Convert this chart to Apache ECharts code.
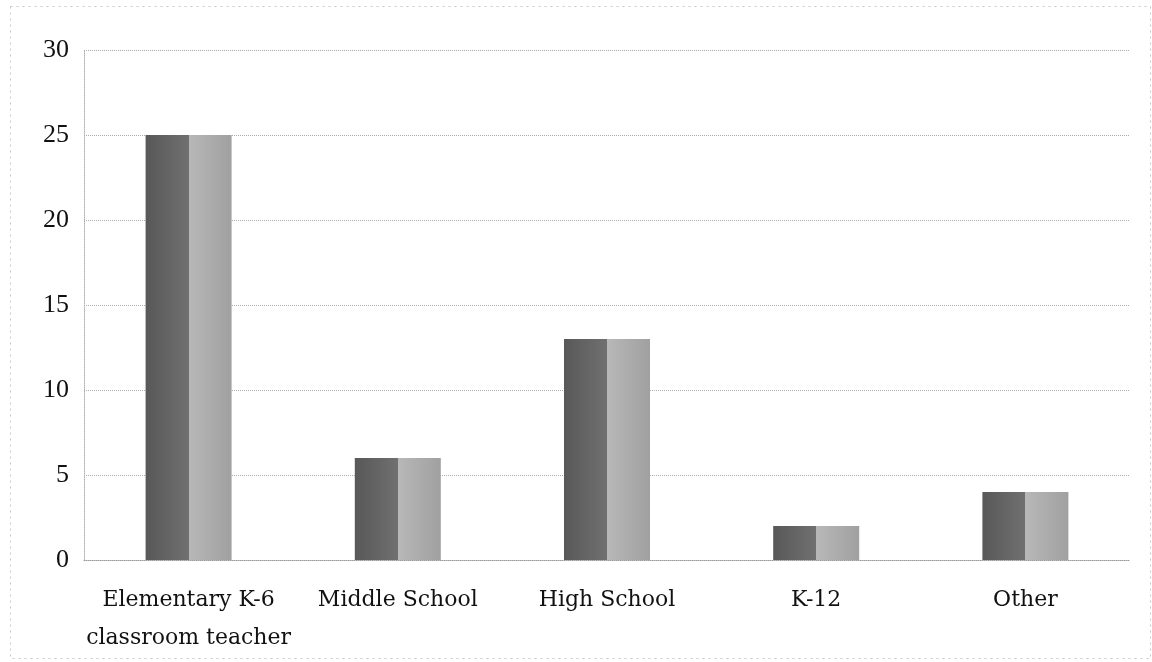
<!DOCTYPE html>
<html>
<head>
<meta charset="utf-8">
<script src="https://cdn.jsdelivr.net/npm/echarts@6/dist/echarts.min.js"></script>
<style>
html,body{margin:0;padding:0;background:#fff;}
#chart{width:1152px;height:662px;}
</style>
</head>
<body>
<div id="chart"></div>
<script>
var categories = ['Elementary K-6\nclassroom teacher', 'Middle School', 'High School', 'K-12', 'Other'];
var values = [25, 6, 13, 2, 4];
var yTicks = [0, 5, 10, 15, 20, 25, 30];

var chart = echarts.init(document.getElementById('chart'));
var barColor = {
  type: 'linear', x: 0, y: 0, x2: 1, y2: 0,
  colorStops: [
    {offset: 0, color: '#585858'},
    {offset: 0.5, color: '#707070'},
    {offset: 0.5, color: '#b8b8b8'},
    {offset: 1, color: '#a0a0a0'}
  ]
};
chart.setOption({
  backgroundColor: '#ffffff',
  animation: false,
  grid: {left: 84, right: 22, top: 50, bottom: 102},
  xAxis: {
    type: 'category',
    data: categories,
    axisTick: {show: false},
    axisLine: {show: true, lineStyle: {color: '#9a9a9a', type: 'dotted', width: 1}},
    axisLabel: {
      color: '#111', fontFamily: 'DejaVu Serif', fontSize: 22,
      lineHeight: 38, margin: 21, interval: 0
    }
  },
  yAxis: {
    type: 'value',
    min: yTicks[0], max: yTicks[yTicks.length - 1], interval: 5,
    axisLine: {show: true, lineStyle: {color: '#b0b0b0', type: 'dotted', width: 1}},
    axisTick: {show: false},
    splitLine: {show: true, lineStyle: {color: '#ababab', type: 'dotted', width: 1}},
    axisLabel: {color: '#111', fontFamily: 'Liberation Serif', fontSize: 26, margin: 15}
  },
  graphic: [{
    type: 'rect', left: 8, top: 4,
    shape: {width: 1140, height: 652},
    style: {fill: 'none', stroke: '#c8c8c8', lineWidth: 1, lineDash: [2, 4]},
    silent: true
  }],
  series: [{
    type: 'bar',
    data: values,
    barWidth: 86,
    itemStyle: {color: barColor}
  }]
});
</script>
</body>
</html>
